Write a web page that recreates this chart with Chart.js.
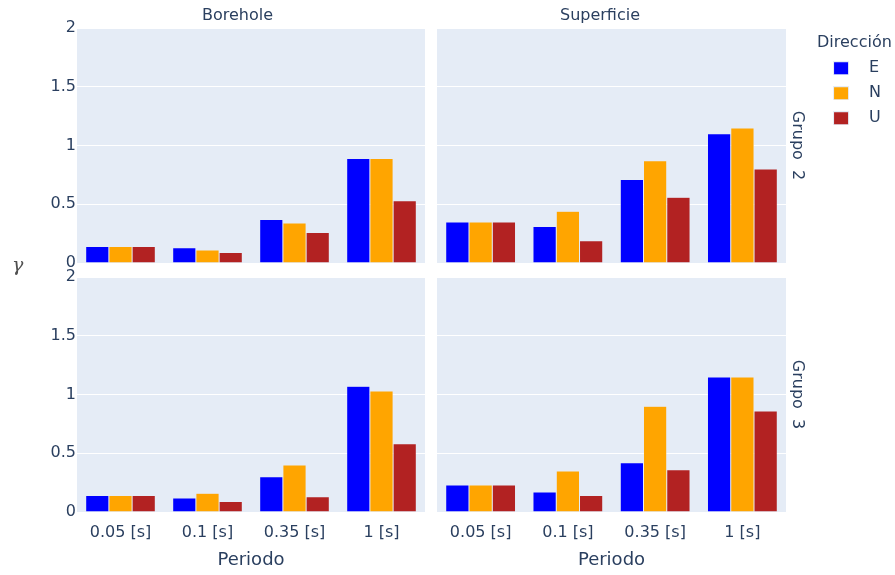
<!DOCTYPE html>
<html>
<head>
<meta charset="utf-8">
<script src="https://cdn.jsdelivr.net/npm/chart.js@4/dist/chart.umd.min.js"></script>
<style>
body { margin: 0; background: #fff; }
#wrap { position: relative; width: 895px; height: 575px; overflow: hidden; }
#wrap canvas { position: absolute; }
#gamma { position: absolute; left: 12px; top: 253px; font: italic 19px "DejaVu Serif", serif; color: #505050; }
</style>
</head>
<body>
<div id="wrap">
  <canvas id="tl" width="430" height="275" style="left:0;top:0"></canvas>
  <canvas id="tr" width="586" height="275" style="left:309px;top:0"></canvas>
  <canvas id="bl" width="430" height="315" style="left:0;top:260px"></canvas>
  <canvas id="br" width="465" height="315" style="left:430px;top:260px"></canvas>
  <span id="gamma">γ</span>
</div>
<script>
var periodos = ['0.05 [s]', '0.1 [s]', '0.35 [s]', '1 [s]']
var direcciones = ['E', 'N', 'U']
var colores = ['#0000ff', '#ffa500', '#b22222']
var yTicks = [0, 0.5, 1, 1.5, 2]

// Borehole, Grupo 2
var boreholeG2E = [0.14, 0.13, 0.37, 0.89]
var boreholeG2N = [0.14, 0.11, 0.34, 0.89]
var boreholeG2U = [0.14, 0.09, 0.26, 0.53]
// Superficie, Grupo 2
var superficieG2E = [0.35, 0.31, 0.71, 1.10]
var superficieG2N = [0.35, 0.44, 0.87, 1.15]
var superficieG2U = [0.35, 0.19, 0.56, 0.80]
// Borehole, Grupo 3
var boreholeG3E = [0.14, 0.12, 0.30, 1.07]
var boreholeG3N = [0.14, 0.16, 0.40, 1.03]
var boreholeG3U = [0.14, 0.09, 0.13, 0.58]
// Superficie, Grupo 3
var superficieG3E = [0.23, 0.17, 0.42, 1.15]
var superficieG3N = [0.23, 0.35, 0.90, 1.15]
var superficieG3U = [0.23, 0.14, 0.36, 0.86]

var textColor = '#2a3f5f'
var panelBg = '#e5ecf6'
Chart.defaults.font.family = "'DejaVu Sans', Verdana, sans-serif"
Chart.defaults.font.size = 16
Chart.defaults.color = textColor

var areaBg = {
    id: 'areaBg',
    beforeDraw: function (chart) {
        var a = chart.chartArea
        chart.ctx.save()
        chart.ctx.fillStyle = panelBg
        chart.ctx.fillRect(a.left, a.top, a.width, a.height)
        chart.ctx.restore()
    }
}

// legend swatch: square sitting a bit right of the item start, leaves a wider gap to the text
function swatch(color) {
    var c = document.createElement('canvas')
    c.width = 35
    c.height = 14
    var g = c.getContext('2d')
    g.fillStyle = color
    g.fillRect(7, 0, 16, 14)
    g.strokeStyle = panelBg
    g.lineWidth = 1
    g.strokeRect(7.5, 0.5, 15, 13)
    return c
}
var swatches = colores.map(swatch)

function datasets(e, n, u) {
    return [e, n, u].map(function (vals, i) {
        return {
            label: direcciones[i],
            data: vals,
            backgroundColor: colores[i],
            borderColor: panelBg,
            borderWidth: 0.5,
            categoryPercentage: 0.8,
            barPercentage: 1.0
        }
    })
}

function newPanel(id, data, o) {
    var scales = {
        x: {
            display: o.bottom,
            grid: { display: false },
            border: { display: false },
            ticks: { padding: 3, color: textColor },
            title: { display: o.bottom, text: 'Periodo', font: { size: 18 }, color: textColor, padding: { top: 0, bottom: 4 } },
            afterFit: function (s) { if (o.bottom) s.height = 63 }
        },
        y: {
            min: 0, max: 2,
            afterBuildTicks: function (s) { s.ticks = yTicks.map(function (v) { return { value: v } }) },
            grid: { color: '#ffffff', lineWidth: 1, drawTicks: false },
            border: { display: false },
            ticks: { display: o.left, padding: 1, color: textColor, callback: function (v) { return String(v) } },
            afterFit: function (s) { s.width = o.yWidth }
        }
    }
    if (o.grupo) {
        scales.y2 = {
            position: 'right', min: 0, max: 2,
            grid: { display: false },
            border: { display: false },
            ticks: { display: false },
            title: { display: true, text: o.grupo, color: textColor, padding: { top: 10.4, bottom: 0 } },
            afterFit: function (s) { s.width = 31 }
        }
    }
    new Chart(document.getElementById(id).getContext('2d'), {
        type: 'bar',
        data: { labels: periodos, datasets: data },
        options: {
            responsive: false,
            animation: false,
            events: [],
            layout: { padding: o.padding },
            scales: scales,
            plugins: {
                title: {
                    display: !!o.title, text: o.title, fullSize: true,
                    font: { size: 16, weight: 'normal' }, color: textColor,
                    padding: { top: 6.4, bottom: 2.4 }
                },
                legend: {
                    display: !!o.legend,
                    position: 'right', align: 'start', fullSize: true,
                    title: { display: true, text: 'Dirección', position: 'start', color: textColor, font: { size: 16 }, padding: { top: 35, bottom: -3 } },
                    labels: {
                        usePointStyle: true, pointStyleWidth: 35, padding: 9, color: textColor,
                        generateLabels: function (chart) {
                            var items = Chart.defaults.plugins.legend.labels.generateLabels(chart)
                            items.forEach(function (it, i) { it.pointStyle = swatches[i] })
                            return items
                        }
                    }
                },
                tooltip: { enabled: false }
            }
        },
        plugins: [areaBg]
    })
}

newPanel('tl', datasets(boreholeG2E, boreholeG2N, boreholeG2U),
    { title: 'Borehole', left: true, bottom: false, yWidth: 27, padding: { left: 50, right: 5, top: 0, bottom: 12 } })
newPanel('tr', datasets(superficieG2E, superficieG2N, superficieG2U),
    { title: 'Superficie', left: false, bottom: false, yWidth: 128, grupo: 'Grupo  2', legend: true, padding: { left: 0, right: 4, top: 0, bottom: 12 } })
newPanel('bl', datasets(boreholeG3E, boreholeG3N, boreholeG3U),
    { left: true, bottom: true, yWidth: 27, padding: { left: 50, right: 5, top: 17, bottom: 0 } })
newPanel('br', datasets(superficieG3E, superficieG3N, superficieG3U),
    { left: false, bottom: true, yWidth: 7, grupo: 'Grupo  3', padding: { left: 0, right: 78, top: 17, bottom: 0 } })
</script>
</body>
</html>
